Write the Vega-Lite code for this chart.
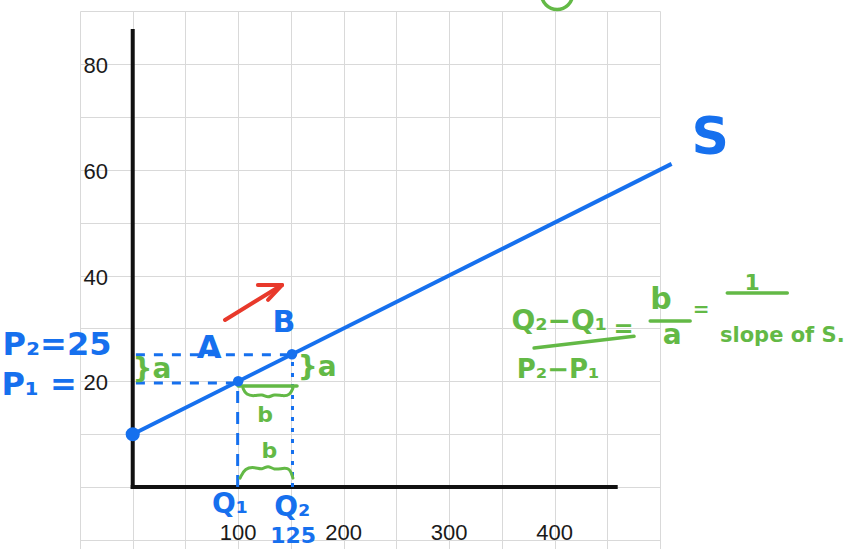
{
  "$schema": "https://vega.github.io/schema/vega-lite/v6.json",
  "width": 580,
  "height": 538,
  "autosize": {"type": "none"},
  "padding": {"left": 80, "top": 11, "right": 188, "bottom": 0},
  "background": "white",
  "config": {
    "view": {"stroke": null},
    "axis": {"grid": true, "gridColor": "#d9d9d9", "gridWidth": 1, "labels": false, "ticks": false, "domain": false, "title": null}
  },
  "datasets": {
    "axes": [
      {"seg": "y", "x": 0, "y": 0}, {"seg": "y", "x": 0, "y": 86.2},
      {"seg": "x", "x": 0, "y": 0}, {"seg": "x", "x": 458, "y": 0}
    ],
    "supply": [{"x": 0, "y": 10}, {"x": 511, "y": 61.1}],
    "dotBig": [{"x": 0, "y": 10}],
    "dotSmall": [{"x": 100, "y": 20}, {"x": 151, "y": 25.1}],
    "dashH": [
      {"seg": "P2", "x": 3, "y": 25}, {"seg": "P2", "x": 151, "y": 25},
      {"seg": "P1", "x": 3, "y": 19.7}, {"seg": "P1", "x": 100, "y": 19.7}
    ],
    "dashV1": [{"x": 99.5, "y": 0}, {"x": 99.5, "y": 19.5}],
    "dashV2": [{"x": 151.5, "y": 0}, {"x": 151.5, "y": 25}],
    "greenSeg": [
      {"seg": "b", "x": 100, "y": 19.1}, {"seg": "b", "x": 155.8, "y": 19.1},
      {"seg": "f1", "x": 380.6, "y": 26.3}, {"seg": "f1", "x": 475.4, "y": 28.5},
      {"seg": "f2", "x": 490.7, "y": 31.4}, {"seg": "f2", "x": 528.6, "y": 31.4},
      {"seg": "f3", "x": 563.8, "y": 36.7}, {"seg": "f3", "x": 620.7, "y": 36.7}
    ],
    "braces": [
      {"seg": "upper", "x": 104.6, "y": 18.7}, {"seg": "upper", "x": 107.4, "y": 17.4},
      {"seg": "upper", "x": 116.0, "y": 17.2}, {"seg": "upper", "x": 122.6, "y": 17.6},
      {"seg": "upper", "x": 128.3, "y": 16.8}, {"seg": "upper", "x": 133.9, "y": 17.6},
      {"seg": "upper", "x": 142.4, "y": 17.2}, {"seg": "upper", "x": 149.1, "y": 17.4},
      {"seg": "upper", "x": 151.9, "y": 18.7},
      {"seg": "lower", "x": 101.8, "y": 1.7}, {"seg": "lower", "x": 106.4, "y": 3.6},
      {"seg": "lower", "x": 116.0, "y": 3.8}, {"seg": "lower", "x": 122.6, "y": 3.2},
      {"seg": "lower", "x": 128.3, "y": 4.2}, {"seg": "lower", "x": 133.9, "y": 3.2},
      {"seg": "lower", "x": 142.4, "y": 3.6}, {"seg": "lower", "x": 149.1, "y": 3.6},
      {"seg": "lower", "x": 151.9, "y": 1.7}
    ],
    "arrow": [
      {"seg": "shaft", "x": 87.5, "y": 31.6}, {"seg": "shaft", "x": 141.5, "y": 38.2},
      {"seg": "h1", "x": 118.7, "y": 38.2}, {"seg": "h1", "x": 141.5, "y": 38.2},
      {"seg": "h2", "x": 128.3, "y": 35.4}, {"seg": "h2", "x": 141.5, "y": 38.2}
    ],
    "circ": [{"x": 402.4, "y": 93.2}],
    "yTicks": [
      {"x": -23.4, "y": 20, "t": "20"}, {"x": -23.4, "y": 40, "t": "40"},
      {"x": -23.4, "y": 60, "t": "60"}, {"x": -23.4, "y": 80, "t": "80"}
    ],
    "xTicks": [
      {"x": 100, "y": -8.7, "t": "100"}, {"x": 200, "y": -8.7, "t": "200"},
      {"x": 300, "y": -8.7, "t": "300"}, {"x": 400, "y": -8.7, "t": "400"}
    ],
    "blue32": [
      {"x": -71.8, "y": 26.9, "t": "P₂=25"},
      {"x": -88.8, "y": 19.3, "t": "P₁ ="},
      {"x": 72.5, "y": 26.3, "t": "A"}
    ],
    "blue30": [{"x": 143.5, "y": 31.0, "t": "B"}],
    "blue28": [{"x": 92.3, "y": -3.4, "t": "Q₁"}, {"x": 151.2, "y": -4.0, "t": "Q₂"}],
    "blue24": [{"x": 152.1, "y": -9.2, "t": "125"}],
    "blue56": [{"x": 547.6, "y": 66.0, "t": "S"}],
    "green28": [
      {"x": 18.3, "y": 22.1, "t": "}a"},
      {"x": 174.9, "y": 22.5, "t": "}a"},
      {"x": 511.5, "y": 28.6, "t": "a"}
    ],
    "green22": [
      {"x": 125.6, "y": 13.6, "t": "b"},
      {"x": 129.5, "y": 6.9, "t": "b"},
      {"x": 587.3, "y": 38.6, "t": "1"}
    ],
    "green30": [{"x": 501, "y": 35.4, "t": "b"}],
    "green28b": [{"x": 404.5, "y": 31.2, "t": "Q₂−Q₁"}],
    "green26": [{"x": 403.3, "y": 22.1, "t": "P₂−P₁"}],
    "green24": [{"x": 465.5, "y": 29.7, "t": "="}],
    "green20": [{"x": 539, "y": 33.5, "t": "="}],
    "green21": [{"x": 616, "y": 28.6, "t": "slope of S."}]
  },
  "encoding": {
    "x": {"field": "x", "type": "quantitative", "scale": {"domain": [-50, 500], "nice": false, "zero": false},
          "axis": {"values": [-50, 0, 50, 100, 150, 200, 250, 300, 350, 400, 450, 500]}},
    "y": {"field": "y", "type": "quantitative", "scale": {"domain": [-11.7, 90], "nice": false, "zero": false},
          "axis": {"values": [-10, 0, 10, 20, 30, 40, 50, 60, 70, 80, 90]}}
  },
  "layer": [
    {"data": {"name": "axes"}, "mark": {"type": "line", "color": "#111111", "strokeWidth": 4, "strokeCap": "square"},
     "encoding": {"detail": {"field": "seg"}}},
    {"data": {"name": "dashH"}, "mark": {"type": "line", "color": "#1670ee", "strokeWidth": 3, "strokeDash": [9, 9]},
     "encoding": {"detail": {"field": "seg"}}},
    {"data": {"name": "dashV1"}, "mark": {"type": "line", "color": "#1670ee", "strokeWidth": 3, "strokeDash": [12, 9]},
     "encoding": {}},
    {"data": {"name": "dashV2"}, "mark": {"type": "line", "color": "#1670ee", "strokeWidth": 3, "strokeDash": [4, 7]},
     "encoding": {}},
    {"data": {"name": "greenSeg"}, "mark": {"type": "line", "color": "#63b946", "strokeWidth": 3.5, "strokeCap": "round"},
     "encoding": {"detail": {"field": "seg"}}},
    {"data": {"name": "braces"}, "mark": {"type": "line", "color": "#63b946", "strokeWidth": 3, "interpolate": "basis", "strokeCap": "round"},
     "encoding": {"detail": {"field": "seg"}}},
    {"data": {"name": "supply"}, "mark": {"type": "line", "color": "#1670ee", "strokeWidth": 4}, "encoding": {}},
    {"data": {"name": "dotBig"}, "mark": {"type": "point", "filled": true, "color": "#1670ee", "size": 200, "opacity": 1}},
    {"data": {"name": "dotSmall"}, "mark": {"type": "point", "filled": true, "color": "#1670ee", "size": 110, "opacity": 1}},
    {"data": {"name": "arrow"}, "mark": {"type": "line", "color": "#e8392b", "strokeWidth": 4, "strokeCap": "round"},
     "encoding": {"detail": {"field": "seg"}}},
    {"data": {"name": "circ"}, "mark": {"type": "point", "shape": "circle", "filled": false, "color": "#63b946", "size": 962, "strokeWidth": 3.5, "opacity": 1}},
    {"data": {"name": "yTicks"}, "mark": {"type": "text", "align": "right", "baseline": "middle", "dy": 2, "fontSize": 22, "font": "Liberation Sans", "color": "#1a1a1a"},
     "encoding": {"text": {"field": "t"}}},
    {"data": {"name": "xTicks"}, "mark": {"type": "text", "align": "center", "baseline": "middle", "fontSize": 22, "font": "Liberation Sans", "color": "#1a1a1a"},
     "encoding": {"text": {"field": "t"}}},
    {"data": {"name": "blue32"}, "mark": {"type": "text", "align": "center", "baseline": "middle", "fontSize": 32, "font": "DejaVu Sans", "fontWeight": "bold", "color": "#1670ee"},
     "encoding": {"text": {"field": "t"}}},
    {"data": {"name": "blue30"}, "mark": {"type": "text", "align": "center", "baseline": "middle", "fontSize": 30, "font": "DejaVu Sans", "fontWeight": "bold", "color": "#1670ee"},
     "encoding": {"text": {"field": "t"}}},
    {"data": {"name": "blue28"}, "mark": {"type": "text", "align": "center", "baseline": "middle", "fontSize": 28, "font": "DejaVu Sans", "fontWeight": "bold", "color": "#1670ee"},
     "encoding": {"text": {"field": "t"}}},
    {"data": {"name": "blue24"}, "mark": {"type": "text", "align": "center", "baseline": "middle", "fontSize": 22, "font": "DejaVu Sans", "fontWeight": "bold", "color": "#1670ee"},
     "encoding": {"text": {"field": "t"}}},
    {"data": {"name": "blue56"}, "mark": {"type": "text", "align": "center", "baseline": "middle", "fontSize": 52, "font": "DejaVu Sans", "fontWeight": "bold", "color": "#1670ee"},
     "encoding": {"text": {"field": "t"}}},
    {"data": {"name": "green28"}, "mark": {"type": "text", "align": "center", "baseline": "middle", "fontSize": 28, "font": "DejaVu Sans", "fontWeight": "bold", "color": "#63b946"},
     "encoding": {"text": {"field": "t"}}},
    {"data": {"name": "green22"}, "mark": {"type": "text", "align": "center", "baseline": "middle", "fontSize": 22, "font": "DejaVu Sans", "fontWeight": "bold", "color": "#63b946"},
     "encoding": {"text": {"field": "t"}}},
    {"data": {"name": "green30"}, "mark": {"type": "text", "align": "center", "baseline": "middle", "fontSize": 30, "font": "DejaVu Sans", "fontWeight": "bold", "color": "#63b946"},
     "encoding": {"text": {"field": "t"}}},
    {"data": {"name": "green28b"}, "mark": {"type": "text", "align": "center", "baseline": "middle", "fontSize": 28, "font": "DejaVu Sans", "fontWeight": "bold", "color": "#63b946"},
     "encoding": {"text": {"field": "t"}}},
    {"data": {"name": "green26"}, "mark": {"type": "text", "align": "center", "baseline": "middle", "fontSize": 26, "font": "DejaVu Sans", "fontWeight": "bold", "color": "#63b946"},
     "encoding": {"text": {"field": "t"}}},
    {"data": {"name": "green24"}, "mark": {"type": "text", "align": "center", "baseline": "middle", "fontSize": 24, "font": "DejaVu Sans", "fontWeight": "bold", "color": "#63b946"},
     "encoding": {"text": {"field": "t"}}},
    {"data": {"name": "green20"}, "mark": {"type": "text", "align": "center", "baseline": "middle", "fontSize": 20, "font": "DejaVu Sans", "fontWeight": "bold", "color": "#63b946"},
     "encoding": {"text": {"field": "t"}}},
    {"data": {"name": "green21"}, "mark": {"type": "text", "align": "center", "baseline": "middle", "fontSize": 21, "font": "DejaVu Sans", "fontWeight": "bold", "color": "#63b946"},
     "encoding": {"text": {"field": "t"}}}
  ]
}
